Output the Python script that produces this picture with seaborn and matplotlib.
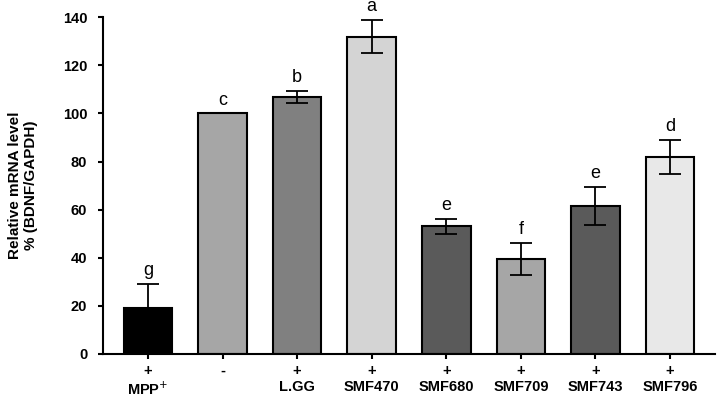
import matplotlib
matplotlib.use("Agg")
import matplotlib.pyplot as plt
import seaborn as sns
import pandas as pd

categories = ["MPP$^{+}$", "", "L.GG", "SMF470", "SMF680", "SMF709", "SMF743", "SMF796"]
signs = ["+", "-", "+", "+", "+", "+", "+", "+"]
values = [19, 100, 107, 132, 53, 39.5, 61.5, 82]
errors = [10, 0, 2.5, 7, 3, 6.5, 8, 7]
letters = ["g", "c", "b", "a", "e", "f", "e", "d"]
colors = ["#000000", "#a6a6a6", "#808080", "#d4d4d4", "#5a5a5a", "#a6a6a6", "#5a5a5a", "#e8e8e8"]

plt.rcParams["font.family"] = "Liberation Sans"
fig = plt.figure(figsize=(7.22, 4.03), dpi=100)
ax = fig.add_axes([0.143, 0.122, 0.847, 0.835])
labels = [f"{s}\n{c}" for s, c in zip(signs, categories)]
df = pd.DataFrame({"x": labels, "y": values})
sns.barplot(data=df, x="x", y="y", hue="x", palette=colors, legend=False,
            edgecolor="black", linewidth=1.5, width=0.65, ax=ax)
for i, (v, e, l) in enumerate(zip(values, errors, letters)):
    if e > 0:
        ax.errorbar(i, v, yerr=e, color="black", capsize=8, elinewidth=1.3, capthick=1.3)
    ax.text(i, v + e + 2, l, ha="center", va="bottom", fontsize=13)
ax.set_ylim(0, 140)
ax.set_yticks(range(0, 141, 20))
ax.set_xlim(-0.6, 7.6)
ax.set_xlabel("")
ax.set_ylabel("Relative mRNA level\n% (BDNF/GAPDH)", fontsize=11, fontweight="bold", labelpad=18)
sns.despine(ax=ax)
for s in ["left", "bottom"]:
    ax.spines[s].set_linewidth(1.5)
ax.tick_params(width=1.5, labelsize=10.5)
ax.tick_params(axis="y", pad=8)
for t in ax.get_xticklabels():
    t.set_fontweight("bold")
for t in ax.get_yticklabels():
    t.set_fontweight("bold")
fig.savefig("out.png", dpi=100)
